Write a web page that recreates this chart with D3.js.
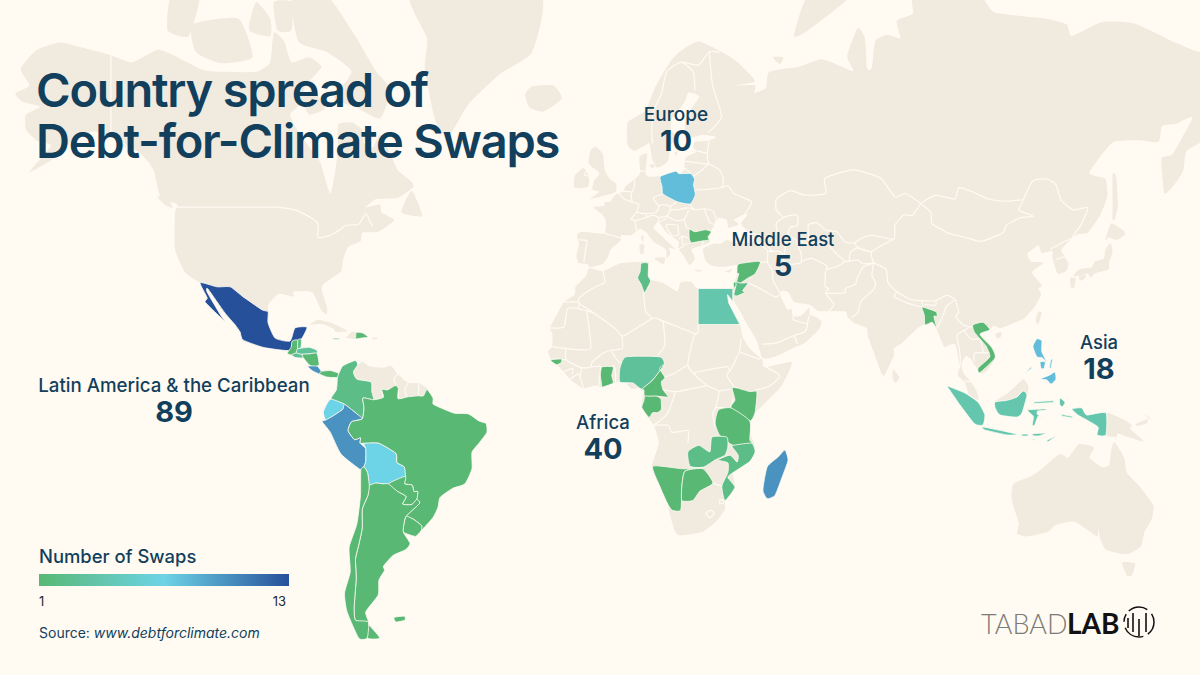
<!DOCTYPE html>
<html>
<head>
<meta charset="utf-8">
<title>Country spread of Debt-for-Climate Swaps</title>
<script src="https://cdn.jsdelivr.net/npm/d3@7"></script>
<style>
html,body{margin:0;padding:0;background:#FFFBF3;}
svg{display:block;}
text{font-family:Inter,"Noto Sans",sans-serif;fill:#123F5C;}
</style>
</head>
<body>
<svg id="map" width="1200" height="675"></svg>
<script>
var regionNames=["Europe","Middle East","Latin America & the Caribbean","Africa","Asia"];
var regionTotals=[10,5,89,40,18];
var legendTicks=[1,13];
var legendColors=["#58B874","#6DD3E6","#27509A"];

// swaps per country, estimated from the fill colour
var swapCountries=["Mexico","Guatemala","Belize","El Salvador","Honduras","Nicaragua","Costa Rica","Panama","Jamaica","Dominican Rep.","Colombia","Ecuador","Peru","Bolivia","Brazil","Paraguay","Uruguay","Argentina","Chile","Falklands","Poland","Bulgaria","Tunisia","Egypt","Syria","Jordan","Palestine","Guinea-Bissau","Ghana","Nigeria","Cameroon","Gabon","Kenya","Tanzania","Zambia","Mozambique","Namibia","Botswana","Madagascar","Bangladesh","Vietnam","Philippines","Indonesia"];
var swapValues=[13,1,2,3,3,1,10,1,2,1,2,7,10,7,1,1,1,1,1,1,8,1,2,4,1,2,1,1,1,3,1,1,1,1,2,2,1,1,10,1,1,8,4];
var sharpCountries=["Egypt"];

// land outlines, [lon,lat]
var land=[
 // north america
 [[-168,65.6],[-164,66.5],[-166.5,68.3],[-162,70.2],[-155.4,70.9],[-150,70.5],[-141,69.7],[-135,69],[-128,70.2],[-124,69.8],[-115,68.2],[-108,68],[-100,68],[-96,69],[-95,71.8],[-92,71],[-90,69],[-85,69.5],[-81.5,68.5],[-86,66.5],[-87,64.5],[-90.4,63],[-87.6,60.4],[-82,56.4],[-81,54.6],[-79,51],[-77.7,54.5],[-76.8,58.4],[-76.8,61.7],[-73,62],[-70,61],[-69.5,59],[-67,58.5],[-65,60.3],[-62,57.5],[-60,55],[-56,53],[-55.7,52],[-60,50.2],[-66,50],[-69,48.5],[-65,49],[-64.5,47.5],[-61,46],[-65.5,43.7],[-70,43.5],[-70.5,41.7],[-74,40.5],[-75.5,37.5],[-76,35],[-81,32],[-81.4,30.5],[-80,26.5],[-80,24.5],[-81.5,25.5],[-82.8,28],[-84,30],[-86,30.4],[-89.5,30.2],[-89.3,29],[-93.5,29.7],[-96.6,27],[-96.6,25.2],[-98.3,25.7],[-103.7,29],[-107.3,31.4],[-111,31.4],[-115.8,32.4],[-120,34.8],[-122.9,40],[-122.9,47.4],[-122.3,49],[-127,50.4],[-129,55],[-133,57.8],[-137,58.6],[-140,59.8],[-146,60.8],[-151.5,59.3],[-150,61],[-153,59],[-158,56.5],[-164,54.7],[-158,58.7],[-162,59.5],[-165,61],[-165,63],[-161,64],[-166,64.6]],
 // greenland
 [[-56,75],[-51.7,71.3],[-52.3,68.4],[-49.4,62.3],[-45.7,60],[-40,64.3],[-31,67.8],[-22,70],[-20,75]],
 // arctic islands
 [[-90,74.8],[-80,74.8],[-72,71.5],[-66,68],[-62,66],[-65,62.5],[-72,64],[-78,65],[-73,68],[-80,70],[-88,71]],
 [[-117,70],[-118,72.5],[-105,73],[-101,69.5],[-110,68.9]],
 [[-125,72],[-124,74.8],[-116,74.8],[-119,71.5]],
 [[-102,72],[-100,74.3],[-96,73],[-96,71.5]],
 [[-95,74.3],[-90,74.3],[-90,72],[-94,72]],
 [[-87,65],[-84,66],[-80.5,63.8],[-85,63]],
 [[-59,47.6],[-56,51.5],[-53,47],[-55,46.8]],
 [[-128,50.5],[-125,50],[-123.5,48.4],[-125.5,48.8]],
 // caribbean land
 [[-84.9,21.9],[-82.5,23.1],[-79,22.4],[-74.2,20.2],[-77.5,19.9],[-78,20.7],[-81,22]],
 [[-74.4,18.4],[-73,19.9],[-71.7,19.8],[-71.8,18.1]],
 [[-67.2,18.4],[-65.7,18.4],[-65.8,18],[-67.2,18]],
 // south america, north coast
 [[-72,12],[-71.3,10.8],[-70,11.9],[-68,10.6],[-64,10.2],[-61.8,10.7],[-60,8.5],[-57,6],[-54,5.9],[-52,4.7],[-51.7,4.1],[-52.7,2.3],[-57.3,2],[-59.9,1.5],[-64,1.9],[-66.8,1.2],[-67.3,3.5],[-67.5,6.2],[-71.5,7],[-72.5,9]],
 // africa
 [[-5.9,35.8],[-2,35.1],[3,36.9],[10,37.3],[11,37],[10.2,34.3],[11,33.2],[15,32.3],[19,30.3],[20,32.5],[23,32.6],[24.9,31],[34.7,31],[34.7,27.8],[33.2,29.5],[33.5,27.5],[36.7,21.9],[37,21],[37.5,18.5],[39.5,15.5],[43,12.5],[43.2,11.5],[44.5,10.5],[51.2,11.8],[50.5,9],[48,4.5],[42,-1.5],[39.5,-4.5],[38.8,-6.5],[40.5,-10.5],[41,-13.4],[39.5,-16],[34.8,-19],[35.3,-22.9],[32.5,-26.3],[32.5,-28.5],[30,-31.5],[26,-34],[20,-34.8],[18.4,-34],[17,-30],[16.1,-26.8],[14.1,-22.7],[11.8,-17.5],[13.8,-11],[12.3,-6],[9,-1],[9.5,4],[8.5,4.6],[6,4.3],[4,6.4],[1,5.9],[-2,4.8],[-4.5,5.2],[-7.5,4.4],[-11,6.7],[-13.5,9.5],[-15,11],[-16.7,12.5],[-17.5,14.7],[-16.3,16],[-16.3,19.5],[-17,21],[-15,24.5],[-13,27.7],[-10,29.5],[-9.7,31.5],[-6.8,34]],
 // eurasia
 [[5,62],[5,58.8],[7,58],[10.5,59],[11.2,59],[12,56.5],[12.7,56],[13,55.4],[14.3,55.5],[16.5,56.5],[17,58.7],[18.8,60],[17.2,61],[17.5,62.5],[21,64.5],[22.2,65.7],[25.2,65.2],[21.5,62.8],[21.3,60.7],[23,59.9],[26,60.3],[30,60],[28,59.5],[24,59.3],[23.5,58.5],[24.3,57.8],[21.5,57],[21,56],[21,55],[19.5,54.4],[18.5,54.8],[14.2,54],[11,53.9],[10,54.5],[10.5,57.5],[8.3,57],[8.5,54.5],[7,53.5],[4.5,52.3],[3.5,51.3],[1.6,50.8],[0,49.5],[-1.5,49.5],[-1.7,48.7],[-4.7,48.5],[-2.5,47.3],[-1.2,46],[-1.7,43.4],[-8,43.7],[-9.3,43],[-8.8,41],[-9.5,38.7],[-8.9,37],[-6.3,36.7],[-5.5,36],[-2,36.8],[-0.5,38.5],[0.2,40],[3,41.9],[3.2,43],[6,43],[8.5,44.3],[10.3,43.5],[12.5,41.5],[15.7,40],[16,38],[17,39],[16.8,40.3],[18.5,40],[16,41.8],[13.5,43.6],[12.3,44.5],[13.5,45.7],[14.5,45],[16,43.5],[19.4,41.7],[19.3,40.3],[21,38.3],[22.5,36.5],[24,38],[23,40],[26,40.8],[28.2,41.6],[27.7,43],[28.6,44],[29.7,45.2],[30.7,46.5],[33,46],[33.5,44.5],[36.5,45.2],[35,46],[37.5,47],[39,47.2],[37,45.3],[39.5,43.5],[41.6,42],[41.5,41.5],[36,41.3],[33,42],[31.3,41.2],[29.2,41.2],[26.3,40.1],[27,37.5],[29,36.3],[32.5,36.1],[36,36.5],[36,34.5],[34.9,32],[34.7,31],[34.9,29.5],[35,28],[37,25],[39,21.5],[41.5,17.5],[43,13],[45,12.8],[48.5,14],[52.2,15.8],[55,17],[58.8,20.3],[59.8,22.5],[58.5,23.7],[56.5,24.5],[56.3,26.2],[54,24.2],[51.7,24.1],[51.3,26],[50.2,25.7],[48.5,28.5],[48,30],[49,30.5],[50.5,30],[52,27.7],[56.5,27],[59,25.4],[66.5,25.3],[67,24],[69,22.3],[72.5,21],[72.8,19],[74.5,14.5],[76.5,9],[77.5,8],[80.2,13.5],[80.2,15.5],[82.5,17],[87,21],[89,22],[91.5,22.4],[92.3,20.5],[94.4,16],[96,16.5],[97.6,16.5],[98.7,11],[98.3,8],[100.3,6],[101.3,3],[103.5,1.3],[104.2,1.4],[103.4,4],[102,6.2],[100,8.5],[99.3,11],[100.5,13.5],[102,12.5],[103,11],[104.8,8.6],[106.6,9.5],[108.8,12.9],[107.9,15.7],[104.5,19.3],[107.3,20.5],[108.3,21.6],[110.5,21],[114,22.3],[117,23.5],[120,26.5],[121.8,29.5],[121,31],[122,31.8],[119.2,34.8],[122.5,37],[119,37.3],[118,39],[121,40.8],[122,39.2],[125,39.6],[125,38],[126.5,34.5],[129,35.2],[129.5,37],[127.5,39.8],[130,42],[132,43.2],[135,43.5],[138.5,47],[140.5,50.5],[140,53.5],[137,54],[135.5,54.7],[142,59.2],[150,59.5],[155,59.3],[156,61.5],[160,61.8],[163,62.5],[164.5,62.5],[159,57.5],[155.8,56.8],[156.7,51],[160,53],[162,55],[163,58],[170,60],[175,61.5],[175,70],[166.7,70],[159,71],[148,72.6],[139,72.7],[130.5,71.5],[129,72.5],[123,73],[108.7,73.5],[104,74.8],[86,74.8],[85.6,73.4],[81,72.8],[82,71.3],[78.2,71.6],[74.9,71],[74,68.4],[72.6,68.4],[72,71.3],[70,72.2],[67,69.6],[68.6,68.1],[60,69.3],[53,68.5],[45,68],[44,66.2],[40,65.5],[35,64.3],[37,63.8],[40,65],[41,66.5],[35,66.5],[41,67],[35,69.3],[25,71],[18,69.5],[13,66.5],[10,63.5]],
 // europe islands
 [[-5.5,50],[1.4,51.2],[1.7,52.7],[0,53.5],[-1.5,55],[-2,57.5],[-4,58.6],[-5.5,58],[-6,56],[-3,54.5],[-4.5,53.2],[-5,51.7],[-3,51.3]],
 [[-10,52],[-6.2,52.2],[-6,54],[-7.5,55.3],[-10,54]],
 [[-24,65.5],[-22,66.4],[-16,66.5],[-13.6,65],[-18.7,63.4],[-22.7,63.9]],
 [[12.5,38],[15.6,38.2],[15,36.7]],
 [[8.3,40.9],[9.7,41],[9.5,39.1],[8.6,39]],
 [[8.7,42.6],[9.5,43],[9.4,41.5]],
 [[23.6,35.5],[26.2,35.2],[24.8,35]],
 [[32.4,35],[34.5,35.6],[33.8,34.8]],
 [[11,55.7],[12.5,56],[12.3,55.2]],
 [[18.2,57.8],[19,57.8],[18.7,57.1]],
 [[46,69.5],[49,69.5],[48,68.8]],
 [[52,71.5],[56,74.8],[68,74.8],[56,72]],
 // asia islands
 [[130.9,34],[132.5,35.5],[136,36],[137,37.3],[139.5,38],[140,40],[141.4,41.3],[142,39.5],[141,37],[140.8,35.5],[137,34.6],[135.8,33.5],[135,34.5],[132,34]],
 [[130,33.5],[131.5,33.5],[131.2,31.2],[130.2,31.3]],
 [[132.5,34],[134.5,34.2],[134,33.3],[132.8,32.9]],
 [[140,42],[141.6,45.4],[145,44],[145.5,43.2],[143.3,42],[141,42.5]],
 [[142,54.3],[143,54],[143.5,49],[142.8,46.5],[142,46],[142,50]],
 [[121,25.2],[122,25],[121,22],[120.2,23]],
 [[108.8,19.3],[110.5,20],[110.5,18.7],[109.5,18.2]],
 [[80,9.7],[81.8,7.5],[80.6,6],[79.8,7.5]],
 [[108.8,0.8],[112,2.8],[115.8,6.2],[117,7],[118.2,5],[117.8,2.5],[116.7,3.7],[115,2],[112,1]],
 [[140.1,-2.5],[145,-4.3],[147.5,-6],[147,-7],[150.8,-10.5],[147,-9.5],[143.5,-8.3],[143,-9.2],[140.1,-8.7]],
 [[148.5,-5.6],[152,-4.2],[151.5,-5.5],[149,-6.2]],
 [[151,-3],[152.8,-4.5],[152.5,-3.8]],
 // australia
 [[114,-22],[113.5,-26],[115.5,-32],[115,-34.3],[118,-35],[123.5,-34],[126,-32.3],[131,-31.5],[134,-33],[137.7,-35],[138,-33],[138.5,-35.5],[140,-38],[143.5,-38.8],[146.3,-39],[150,-37.3],[151,-34],[153,-31],[153.5,-27.5],[149.5,-22.5],[146,-19],[145.3,-15],[142.5,-10.7],[141.6,-13],[141,-17],[139,-17.5],[135.5,-15],[136.8,-12.2],[132.5,-11.3],[129.5,-14.9],[127,-14],[122,-18],[119,-20]],
 [[144.7,-40.8],[148.3,-41],[147.5,-43.5],[146,-43.5]]
];

// borders between countries with no swaps
var borderLines=[
 // north america
 [[-141,69.7],[-141,60.3]],
 [[-141,60.3],[-137,58.9],[-130,55.9]],
 [[-122.3,48.5],[-94,48.5]],
 [[-94,48.5],[-89,48],[-84.5,46.5],[-82.5,45.3],[-82.5,42.5],[-79,43],[-76.5,44],[-74.5,45],[-71,45.2],[-69,47.3],[-67.8,45.7],[-67,44.8]],
 // south america
 [[-60,8.5],[-61,7],[-60.7,5.2],[-62.8,4],[-64.5,4.1],[-64,1.9]],
 [[-60.7,5.2],[-59.8,4.5],[-59.9,1.5]],
 [[-57,6],[-58,4],[-57.3,2]],
 [[-54,5.9],[-54.2,2.3]],
 // africa
 [[-2,35.1],[-1.5,32.5],[-5,31],[-8.7,28.7],[-8.7,27.3],[-4.8,25],[1.2,21],[3.3,19],[4.2,19],[12,23.5],[14.5,23],[24,19.5],[24.9,20],[24.9,22]],
 [[-13,27.7],[-8.7,27.7]],
 [[-8.7,26],[-12,26],[-13,21.3],[-17,21]],
 [[-8.7,27.3],[-8.7,26],[-4.8,25],[-6.5,25],[-5.5,15.5],[-12.5,15.5],[-16.3,16]],
 [[9.5,30.2],[10,25.5],[12,23.5]],
 [[3.3,19],[3.5,15.5],[0.2,15],[-2,14.2],[-5,11.8],[-5.5,10.4],[-8,10.2],[-12.3,12.3],[-12.5,15.5]],
 [[15,23],[15.5,16.5],[13.5,13.7]],
 [[0.2,15],[2.4,11.9],[3.7,11.7]],
 [[0.9,11],[1.5,9.5],[1.6,6.2]],
 [[-5.5,10.4],[-2.9,10.6]],
 [[-7.5,4.4],[-8.4,7.6],[-8,10.2]],
 [[-3.2,5.1],[-2.7,9.5],[-2.9,11]],
 [[-11.4,6.9],[-9,8.5],[-8.4,7.6]],
 [[-13.3,9],[-10.5,10],[-10.7,8.3]],
 [[-16.7,12.5],[-12.3,12.4]],
 [[24,19.5],[22.8,15.5],[22,11],[23.5,8.7],[27.4,5.2],[30.8,3.5],[29.7,-1.3],[29,-2.7],[29.6,-6.5]],
 [[15.5,7.5],[18.5,8.8],[22,11]],
 [[15,4],[16.2,2.2]],
 [[15,4],[18.5,3.5],[22.5,4.2],[27.4,5.2]],
 [[23.5,8.7],[27,9.5],[33,10.5],[34,9.5],[36.5,14.5],[37,18]],
 [[34,9.5],[33,8],[35,5],[36,4.5]],
 [[34,4.2],[31,3.7],[30.8,3.5]],
 [[36.5,14.5],[42.5,12.5]],
 [[41,3.9],[45,5],[48,8],[43,11]],
 [[34.8,1.5],[33.9,-1],[30.5,-1],[29.7,-1.3]],
 [[18.5,3.5],[17,-1],[16,-3],[14,-4.8],[12.3,-6]],
 [[12.3,-6],[16.5,-6],[17.5,-8],[22,-7.5],[22,-11]],
 [[33,-9.3],[34.8,-11.6]],
 [[29.1,-21.8],[31.6,-22.6]],
 [[27,-29.5],[28.5,-28.7],[29.4,-29.5],[28.2,-30.6],[27,-29.5]],
 [[31,-26],[32,-26.2],[32,-27],[31,-27],[31,-26]],
 // europe
 [[12,59],[11.8,61],[12.3,63.5],[14.5,65.5],[16,68],[20,69],[25,68.7],[28,70],[31,70]],
 [[24,65.9],[23.5,68],[20.5,69]],
 [[28,70],[29,66.5],[31.5,62.8],[27.8,60.6]],
 [[24.4,58],[27.5,57.6]],
 [[21,56.4],[26.5,56],[28,56]],
 [[28,59.5],[27.5,57.6],[28,56],[31,55],[32,53.5],[31.3,52],[24,51.6]],
 [[23.5,53.9],[26,55],[28,56]],
 [[19.5,54.4],[22.8,54.4],[21,55.3]],
 [[22.5,49],[24,48],[26.6,48.2],[29,47.8],[30,46.3],[29.7,45.2]],
 [[31.3,52],[33.5,52.3],[35,51],[40,49.5],[38,47.2]],
 [[8.5,54.9],[9.8,54.8]],
 [[7,53.4],[6.8,52],[6,51],[6.3,49.5],[8.2,49],[7.6,47.6],[10,47.3],[13,47.5],[13.8,48.7],[12.2,50.2],[15,50.9]],
 [[3.4,51.4],[6,51.3]],
 [[2.5,51.1],[4,50],[6,49.5],[6.3,49.5]],
 [[7.6,47.6],[6,46.2],[7,45.9],[7.5,43.8]],
 [[7,45.9],[10.4,46.6],[10,47.3]],
 [[10.4,46.6],[12,47],[13.7,46.5],[13.6,45.6]],
 [[13.8,48.7],[15,49],[17,48.7],[19,49.5]],
 [[17,48.7],[17,48],[16,46.8],[13.7,46.5]],
 [[17,48],[19,48],[22.2,48.4]],
 [[13.6,45.5],[16,46.4]],
 [[22.2,48],[21,46.2],[18.8,45.9],[16,46.8]],
 [[22.2,48.4],[24,48]],
 [[26.6,48.2],[28.2,45.5],[29.7,45.2]],
 [[21,46.2],[21.5,44.7],[22.4,44.2]],
 [[16,45.2],[19,45],[19.3,43],[17.5,42.9],[16,44.5],[16,45.2]],
 [[19.4,42.2],[20.5,42.8],[22.4,42.3]],
 [[20.5,42.8],[20.5,41],[22.9,41.4]],
 [[19.3,40],[21,40.8]],
 [[-8.8,42],[-6.5,41.8],[-7,39.5],[-7.4,37.2]],
 [[-1.7,43.4],[3.2,42.4]],
 [[-6,55.2],[-7.3,54.2],[-6,54]],
 // middle east and central asia
 [[26.3,41.8],[26,40.8]],
 [[41.5,41.5],[44.5,39.7],[44.5,37.2],[46,35],[46,33],[48,30]],
 [[44.5,37.2],[42.4,37.2]],
 [[39,32.3],[42,31.2],[46.5,29],[48,29.5]],
 [[43,16.7],[47,17],[52,19],[55,20],[55.7,22],[52,23],[51.7,24.1]],
 [[53,16.7],[52,19]],
 [[55.7,22],[56.4,24.5]],
 [[40,43.4],[44,42.6],[46.5,41.8],[48.6,41.8]],
 [[41.5,41.5],[46,41.2],[46.5,41.8]],
 [[44,41],[46,39.5],[44.8,39.7]],
 [[44.8,39.5],[48,39.5],[48.9,38.4]],
 [[47,45.5],[49,46.5],[51.5,47],[53,46.8],[53,45],[51,44.6],[50.3,43],[52.5,42],[53,41],[54,39],[53.9,37],[51,36.7],[49,37.5],[49.5,40.5],[47.8,42.5],[47,44.5],[47,45.5]],
 [[54,37.3],[57,38],[61,36.5],[61.2,35.5],[60.8,34.5],[60.8,31.5],[61.8,31],[60.9,29.8],[63.3,27],[61.6,25.2]],
 [[60.9,29.8],[66.3,29.9],[66.5,31],[69.3,32],[70,33.8],[71.5,36],[74.5,37]],
 [[61.2,35.5],[64.5,36.3],[66.5,37.3],[70,37.6],[71.5,36.8],[74.5,37]],
 [[53,42],[56,41.3],[56,45],[58.5,45.5],[61,44],[64,43.7],[66.5,41.5],[69,41.4],[71,42.3],[74,43],[80.2,42.2],[80.5,45],[83,47],[85.5,47],[87.8,49.2]],
 [[49,46.5],[47,48],[47,50],[51,51.5],[55,50.7],[61,51],[60.7,53.6],[68.6,55],[76.3,53.7],[80.5,50.4],[83.5,51],[87.8,49.2]],
 [[80.2,42.2],[74,39.5],[74.5,37]],
 [[69,41.4],[70,40.3],[73.5,39.5],[74,39.5]],
 [[67.5,37.2],[68,39.5],[70.5,40.5]],
 [[66.5,37.3],[64,39],[61,41.3],[56,41.3]],
 // east and south asia
 [[87.8,49.2],[92,50.7],[97.5,50],[98.5,52],[102,51.4],[107,50],[112,49.6],[116.7,49.8],[115.5,48],[119.5,46.8],[116,46.5],[112,45],[111,43.5],[105,41.7],[100,42.6],[96,43.3],[91,45.3],[90.7,47.5],[87.8,49.2]],
 [[116.7,49.8],[119.5,53.2],[123.5,53.5],[126,52.5],[127.5,49.8],[130.8,48],[135,48.4],[133,45],[131,43],[130.6,42.4]],
 [[124.4,40],[128,41.5],[130.6,42.4]],
 [[126,37.8],[128.5,38.4]],
 [[74.5,37],[78,35.5],[78.5,32.5],[81,30.2],[85,28.3],[88,28],[92,28],[95,29.3],[97.5,28.3],[98.5,25],[97.7,24],[99.5,22],[101.8,21.2],[102.5,21.8]],
 [[80.2,28.9],[81,30.2]],
 [[80.2,28.9],[84,27.4],[88.2,26.4],[88,28]],
 [[88.8,27.1],[92,26.9],[92,28]],
 [[74.5,37],[74,34],[75,32.5],[74.5,30.8],[71,28],[70,25],[68.2,23.7]],
 [[97.5,28.3],[95,26.5],[94,24],[93,22],[92.3,20.8]],
 [[101.2,21],[100,20.4],[98,19],[98.6,16],[99,12.5],[98.7,10]],
 [[100,20.4],[102,18],[104.5,18],[105.5,14.3]],
 [[102.8,12],[103,14.3],[105.5,14.3],[107.5,14.5]],
 [[100.2,6.5],[102,6.2]]
];

// outlines of the countries with swaps, same order as swapCountries
var swapOutlines=[
 [[[-115.8,32.4],[-111,31.4],[-107.3,31.4],[-103.7,29],[-98.3,25.7],[-96.6,25.2],[-96.6,22.3],[-94.6,18.3],[-90.4,17.5],[-89,21],[-85.6,21.2],[-87,18.3],[-89,16.4],[-89.8,15],[-92.4,15],[-98,15.8],[-103.7,17.8],[-104.5,19.9],[-105.9,21.8],[-108.8,24.9],[-113.6,30.9],[-113.8,30.1],[-109.9,24.2],[-108.5,22.5],[-111,24.6],[-114.4,27.7],[-113.8,28.7]]],
 [[[-91.2,14.2],[-90.1,15.8],[-89.8,17.5],[-88.2,17.8],[-88.2,15.4],[-88.6,14.3],[-90,13.7]]],
 [[[-88.2,17.8],[-87.2,18],[-87.3,15.8],[-88.2,15.4]]],
 [[[-90,13.7],[-88.6,14.3],[-87,13.9],[-86.6,12.9],[-88.8,13]]],
 [[[-88.6,14.3],[-88.2,15.4],[-85,15.8],[-82.8,15],[-82.8,14.2],[-85,14],[-87,13.9]]],
 [[[-86.6,12.9],[-87,13.9],[-85,14],[-82.8,14.2],[-82.2,11],[-83.8,10.4],[-85,11]]],
 [[[-85.4,10.6],[-82.7,10.6],[-81.5,9],[-82,8.4],[-84,9.3]]],
 [[[-82,8.4],[-81.5,9.2],[-79,9.4],[-76.6,8.6],[-77,7.5],[-79,7.5],[-80,7.6]]],
 [[[-78.3,18.3],[-76.3,18.2],[-76.8,17.9],[-78,18]]],
 [[[-71.7,19.8],[-70,19.7],[-68.4,18.6],[-71,18.2],[-71.8,18.1]]],
 [[[-76.6,8.6],[-75.5,10.7],[-72,12.2],[-71.3,11],[-72.5,9],[-71.5,7],[-67.5,6.2],[-67.3,3.5],[-66.8,1.2],[-69.8,1.7],[-69.5,-1],[-70,-4.2],[-72,-2.4],[-75,-0.1],[-78.8,1.4],[-77.3,4],[-77,7.5]]],
 [[[-78.8,1.4],[-75,-0.1],[-75.5,-1.5],[-78.3,-3.4],[-80.3,-4.5],[-81,-2.3],[-80,0]]],
 [[[-75,-0.1],[-72,-2.4],[-70,-4.2],[-73,-5],[-74,-7.5],[-72.2,-10],[-70.5,-9.5],[-70.6,-11],[-69,-12.5],[-69,-16],[-69.5,-17.5],[-70.4,-18.3],[-76,-14],[-79,-8],[-81.3,-5],[-80.3,-4.5],[-78.3,-3.4],[-75.5,-1.5]]],
 [[[-69.5,-11],[-65.3,-11],[-60.5,-13.8],[-60.2,-16.3],[-58.1,-17.5],[-57.8,-20],[-62.6,-22],[-64,-22],[-66.2,-21.8],[-68,-22.5],[-68.5,-19],[-69.5,-17.5],[-69,-16],[-69,-12.5]]],
 [[[-51.7,4.1],[-50,1.7],[-50,0],[-48,-1],[-44,-2.6],[-40,-2.8],[-37,-4.8],[-35,-5.5],[-34.8,-8],[-37,-11],[-39,-13.5],[-39,-18],[-41,-22],[-44.5,-23.2],[-48,-25.5],[-48.6,-28],[-50,-30.5],[-53.4,-33.7],[-53.2,-32.5],[-55.6,-30.9],[-57.6,-30.2],[-53.8,-27],[-54.6,-26],[-54.3,-24],[-55.4,-24],[-55.9,-22.3],[-58,-22],[-57.8,-20],[-58.1,-17.5],[-60.2,-16.3],[-60.5,-13.8],[-65.3,-11],[-69.5,-11],[-70.6,-11],[-70.5,-9.5],[-72.2,-10],[-74,-7.5],[-73,-5],[-70,-4.2],[-69.5,-1],[-69.8,1.7],[-66.8,1.2],[-64,1.9],[-64.5,4.1],[-62.8,4],[-60.7,5.2],[-59.8,4.5],[-59.9,1.5],[-57.3,2],[-54.2,2.3],[-52.7,2.3]]],
 [[[-57.8,-20],[-58,-22],[-55.9,-22.3],[-55.4,-24],[-54.3,-24],[-54.6,-26],[-56,-27.3],[-58.6,-27.2],[-57.6,-25.3],[-60,-24],[-62.6,-22]]],
 [[[-57.6,-30.2],[-55.6,-30.9],[-53.2,-32.5],[-53.4,-33.7],[-55,-35],[-58.4,-34],[-58.2,-32]]],
 [[[-66.2,-21.8],[-64,-22],[-62.6,-22],[-60,-24],[-57.6,-25.3],[-58.6,-27.2],[-56,-27.3],[-54.6,-26],[-53.8,-27],[-57.6,-30.2],[-58.2,-32],[-58.4,-34],[-56.5,-36.6],[-57.7,-38],[-61.3,-39.3],[-64,-41.6],[-63.7,-42.5],[-65.3,-44.5],[-65.5,-47.4],[-69,-50.5],[-68.3,-52.3],[-71.9,-52],[-72.3,-50],[-72,-47],[-71.7,-44],[-71.9,-40],[-71,-37],[-70,-33],[-70,-28.5],[-68.4,-25],[-68,-22.5]],[[-68.6,-52.6],[-65,-55],[-68.6,-55]]],
 [[[-70.4,-18.3],[-69.5,-17.5],[-68.5,-19],[-68,-22.5],[-68.4,-25],[-70,-28.5],[-70,-33],[-71,-37],[-71.9,-40],[-71.7,-44],[-72,-47],[-72.3,-50],[-71.9,-52],[-68.3,-52.3],[-68.6,-55],[-71,-55],[-74.3,-50.5],[-75,-47],[-73.4,-42.8],[-73.7,-37.5],[-71.5,-32],[-70.5,-25]]],
 [[[-61,-51.5],[-58,-51.3],[-58,-52],[-60.5,-52.3]]],
 [[[14.2,53.9],[18.5,54.8],[19.5,54.4],[22.8,54.4],[23.9,53.5],[23.6,52.5],[24.1,50.8],[22.7,49.1],[19,49.5],[15,50.9],[14.7,52.2]]],
 [[[22.4,44.2],[24,43.7],[27,44.1],[28.6,43.7],[27.7,42.6],[28,42],[26.3,41.8],[24,41.5],[22.9,41.4],[22.4,42.3]]],
 [[[8.8,36.9],[10.8,36.9],[10.8,34],[11.5,32.8],[10.5,31],[9.7,30],[8.8,32],[7.8,33.5],[8.5,35]]],
 [[[24.9,31],[29,31],[34.7,31],[34.7,27.8],[33.2,29.5],[33.5,27.5],[36.7,21.9],[24.9,21.9]]],
 [[[35.9,35.9],[36.5,36.8],[42.4,37.3],[41,34.5],[38.8,33.4],[36.8,32.3],[35.8,32.7],[36.4,34.5],[35.9,34.6]]],
 [[[35.5,32.6],[36.8,32.3],[39,32.3],[37.5,30.5],[38,30],[36,29.2],[35,29.5],[35.5,31.5]]],
 [[[34.9,32.5],[35.6,32.4],[35.5,31.4],[34.9,31.4]]],
 [[[-16.7,12.4],[-13.8,12.6],[-13.7,11.7],[-15,11],[-16.2,11.7]]],
 [[[-2.3,5],[-2,4.8],[0.9,5.9],[0.5,8],[0.9,10.4],[-2.3,10.4],[-2.7,8]]],
 [[[2.8,6.2],[2.8,10],[4.5,13.2],[14.1,13.2],[15.3,11],[12.1,6.8],[9,4.2],[6.5,5.9]]],
 [[[9,4.2],[9.6,3.9],[9.8,2.2],[13.3,2.2],[16.4,2],[15,4],[14.5,6.2],[15.5,7.5],[14,10],[15.3,11],[12.1,6.8]]],
 [[[9.8,2.2],[11.3,2.2],[13.2,2.2],[14.4,1.4],[14.5,-1.5],[13.5,-2.4],[12,-2.5],[11,-3.8],[9,-1],[9.6,1]]],
 [[[34.5,4.5],[36,4.5],[39.5,3.5],[41.5,3.4],[41,-2.3],[39.5,-4.8],[34.2,-1.1],[35.3,1.1]]],
 [[[30.6,-1.7],[34.2,-1.1],[39.5,-4.8],[39.5,-10],[40,-11],[34.8,-11.6],[31,-8.8],[29.7,-5.4]]],
 [[[22,-13.4],[25.1,-11.6],[28.2,-13.4],[28.8,-9.3],[33,-9.3],[33.3,-12],[32.5,-14.3],[29.7,-15.6],[26.3,-17.6],[22.6,-17.3]]],
 [[[40,-11],[41,-13.4],[39.5,-16],[34.8,-19],[33.3,-20.3],[35.3,-22.9],[32.5,-26.3],[31.6,-22.6],[33.3,-19],[33.3,-16.4],[30.5,-15.6],[33.9,-14.3],[35.9,-16.2],[36.2,-14.3],[34.5,-12],[34.8,-11.6]]],
 [[[12.1,-17.3],[20.6,-18],[26.3,-17.6],[21.2,-18.6],[20.3,-22.6],[20,-28.7],[17.5,-28.7],[16.1,-26.8],[14.1,-22.7]]],
 [[[21.2,-18.6],[26.3,-18],[29.1,-21.8],[25.4,-23.9],[23.4,-26.3],[20.3,-26.3],[20.3,-22.6]]],
 [[[49.4,-12.9],[50.3,-15.7],[48.6,-20.3],[46.6,-25],[44.4,-25.8],[43.2,-23.6],[44.4,-17.5],[47.5,-14.8]]],
 [[[88.1,26.4],[89.8,26],[92.2,25.2],[92.4,24],[91.5,24],[92.3,21],[91,22.5],[89,21.8],[88.8,24.3]]],
 [[[102.5,21.8],[105.4,22.5],[107.3,20.5],[104.5,19.3],[107.9,15.7],[108.8,12.9],[104.5,8.8],[104,10.1],[107.3,13.2],[106.2,16.2],[103,19.8]]],
 [[[119.5,16],[120.6,18.1],[122,17.6],[122,14.6],[123.4,11.8],[122,13],[120.6,13.2]],[[121.5,7],[124.3,8.2],[125.7,9],[126,7],[124.6,5.6],[123.4,6.8]],[[117.2,8.6],[119,10.5],[119,10]],[[121.5,11.8],[123,11.8],[122.6,10],[121.8,10]],[[124.5,12.3],[125,12.5],[124.6,10.2],[124.2,10.2]]],
 [[[95.2,5.1],[96.9,4.5],[100.5,3],[104,0.5],[105.9,-3],[105.4,-5.9],[103,-5.6],[98.9,-0.3],[96,3.9]],[[105.6,-6.5],[115,-8.5],[112.1,-8.7],[105.9,-7.3]],[[116.4,-8.5],[118,-8.5],[118,-9],[116.4,-9]],[[119.5,-8.4],[123.2,-8.2],[121,-9],[119.5,-8.9]],[[119,-9.8],[121,-10.3],[119.8,-10.2]],[[123.4,-10.3],[126.3,-8.8],[125.5,-9.4],[123.8,-10.6]],[[108.8,0.6],[112,1],[115,2],[116.7,3.7],[117.8,2.5],[116.4,-2.5],[115,-3.7],[110.2,-3.1],[108.8,-1.1]],[[120,0.6],[125,0.9],[125,0.4],[120,0.2]],[[118,-1.7],[123,-1.4],[123,-1.8],[120.8,-2],[120.8,-3],[122.5,-3.9],[121,-3.4],[120,-5.9],[119.3,-6],[119.6,-3.5]],[[127.1,1.7],[128.5,0.6],[128.4,0],[127.7,-0.8],[127,0]],[[127.7,-3],[130.5,-3.5],[130.5,-3.9],[127.7,-3.4]],[[130.5,-1.4],[133.3,-1.1],[134.7,-3.1],[140.1,-2.5],[140.1,-8.7],[137.6,-8.7],[137.9,-6.5],[134.7,-4.5],[132.2,-3.1]]]
];

var bgColor="#FFFBF3";
var landColor="#F1EADF";

var svg=d3.select("#map");
svg.append("rect").attr("width",1200).attr("height",675).attr("fill",bgColor);

var projection=d3.geoMercator().scale(202.8).translate([610,404]);

// rounded coasts, the outlines are only a few points each
var roundRing=d3.line().curve(d3.curveCardinalClosed.tension(0.45));
var sharpRing=d3.line().curve(d3.curveLinearClosed);
var roundLine=d3.line().curve(d3.curveCardinal.tension(0.45));
function project(points){
  return points.map(function(p){return projection(p);});
}
function polygon(rings,ring){
  return rings.map(function(r){return ring(project(r));}).join("");
}

var color=d3.scaleLinear().domain([1,7,13]).range(legendColors);

var g=svg.append("g");
g.selectAll(".land").data(land).enter().append("path")
  .attr("class","land")
  .attr("d",function(d){return polygon([d],roundRing);})
  .attr("fill",landColor);

g.selectAll(".border").data(borderLines).enter().append("path")
  .attr("class","border")
  .attr("d",function(d){return roundLine(project(d));})
  .attr("fill","none")
  .attr("stroke",bgColor)
  .attr("stroke-width",1.2)
  .attr("stroke-linejoin","round");

g.selectAll(".country").data(swapOutlines).enter().append("path")
  .attr("class","country")
  .attr("d",function(d,i){
    return polygon(d,sharpCountries.indexOf(swapCountries[i])>=0?sharpRing:roundRing);
  })
  .attr("fill",function(d,i){return color(swapValues[i]);})
  .attr("stroke",bgColor)
  .attr("stroke-width",0.8)
  .attr("stroke-linejoin","round")
  .append("title").text(function(d,i){return swapCountries[i]+": "+swapValues[i];});

// title
svg.append("text").attr("x",36).attr("y",107).attr("font-size",47).attr("font-weight",600).attr("letter-spacing",-1.2).text("Country spread of");
svg.append("text").attr("x",36).attr("y",158).attr("font-size",47).attr("font-weight",600).attr("letter-spacing",-1.2).text("Debt-for-Climate Swaps");

// region totals
var regionX=[676,783,174,603,1099];
var regionY=[121,246,392,429,349];
var regionSize=[19,18.5,18.7,18.6,18.5];
regionNames.forEach(function(name,i){
  svg.append("text").attr("x",regionX[i]).attr("y",regionY[i])
    .attr("text-anchor","middle").attr("font-size",regionSize[i]).attr("font-weight",500)
    .text(name);
  svg.append("text").attr("x",regionX[i]).attr("y",regionY[i]+30)
    .attr("text-anchor","middle").attr("font-size",29).attr("font-weight",700)
    .text(regionTotals[i]);
});

// legend
var defs=svg.append("defs");
var grad=defs.append("linearGradient").attr("id","swapGradient");
legendColors.forEach(function(c,i){
  grad.append("stop").attr("offset",(i*50)+"%").attr("stop-color",c);
});
var legendScale=d3.scaleLinear().domain([1,13]).range([39,289]);
svg.append("text").attr("x",39).attr("y",563).attr("font-size",18.4).attr("font-weight",500).text("Number of Swaps");
svg.append("rect").attr("x",legendScale(1)).attr("y",574)
  .attr("width",legendScale(13)-legendScale(1)).attr("height",12)
  .attr("fill","url(#swapGradient)");
svg.selectAll(".tick").data(legendTicks).enter().append("text")
  .attr("class","tick")
  .attr("x",function(d){return legendScale(d);})
  .attr("dx",function(d,i){return i==0?0:-3;})
  .attr("y",606)
  .attr("text-anchor",function(d,i){return i==0?"start":"end";})
  .attr("font-size",13)
  .style("fill","#1c2a33")
  .text(function(d){return d;});
var source=svg.append("text").attr("x",39).attr("y",638).attr("font-size",14);
source.append("tspan").text("Source: ");
source.append("tspan").attr("font-style","italic").text("www.debtforclimate.com");

// logo
svg.append("text").attr("x",981).attr("y",634).attr("font-size",27).attr("font-weight",300)
  .style("font-family","Lato,sans-serif").style("fill","#7d7b76").text("TABAD");
svg.append("text").attr("x",1067).attr("y",634).attr("font-size",28).attr("font-weight",700)
  .style("font-family","Lato,sans-serif").style("fill","#111").text("LAB");
var mark=svg.append("g").attr("transform","translate(1139,622)").attr("fill","none").attr("stroke","#111");
mark.append("circle").attr("r",15).attr("stroke-width",1.5).attr("stroke-dasharray","14 5 22 6 8 4 20 6");
[[-6,-9,-6,10],[0,-3,0,14],[7,-9,7,10],[-11,-4,-11,6]].forEach(function(l){
  mark.append("line").attr("x1",l[0]).attr("y1",l[1]).attr("x2",l[2]).attr("y2",l[3]).attr("stroke-width",1.6);
});
</script>
</body>
</html>
